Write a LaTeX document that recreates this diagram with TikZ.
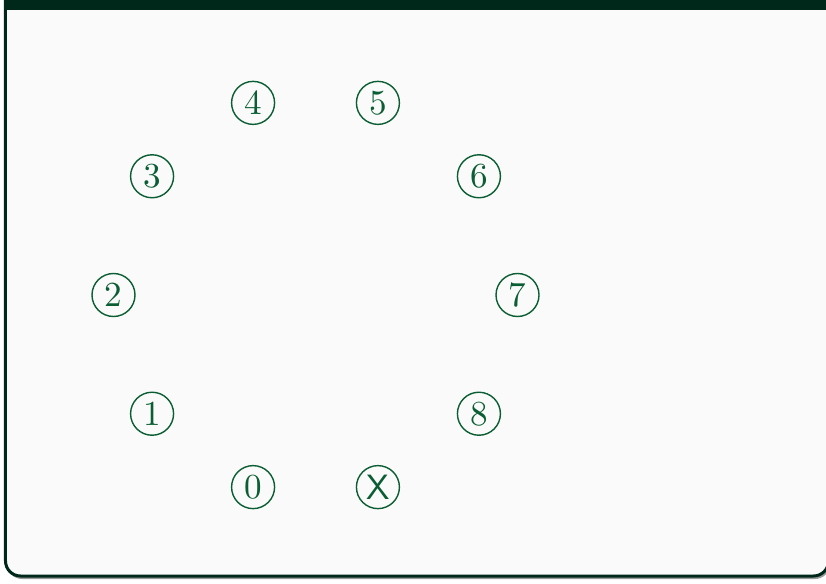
\documentclass[tikz,border=0pt]{standalone}
\usepackage{tikz}
\usetikzlibrary{calc}
\definecolor{framegreen}{HTML}{00281A}
\definecolor{dialgreen}{HTML}{0B5E33}
\definecolor{paper}{HTML}{FAFAFA}
\tikzset{dial/.style = {shape=circle, draw=dialgreen, text=dialgreen, line width=0.4pt,
  minimum size=0.43cm, inner sep=0pt}}
\tikzset{box/.style = {rounded corners=0.15cm}}

\begin{document}
\begin{tikzpicture}
\useasboundingbox (0,0) rectangle (8.26,5.83);
% frame
\fill[black!40, box] (0.07,0.04) rectangle (8.30,6.3);
\filldraw[fill=paper, draw=framegreen, line width=0.03cm, box] (0.055,0.07) rectangle (8.285,6.3);
\fill[framegreen] (0.04,5.73) rectangle (8.3,6.3);
%
\coordinate (centre) at (3.155,2.88);
\foreach \lab/\k in {0/0,1/1,2/2,3/3,4/4,5/5,6/6,7/7,8/8,\textsf{X}/9}
  \node[dial] (d\k) at ([shift={({252-36*\k}:2.02)}]centre) {\lab};
\end{tikzpicture}
\end{document}
